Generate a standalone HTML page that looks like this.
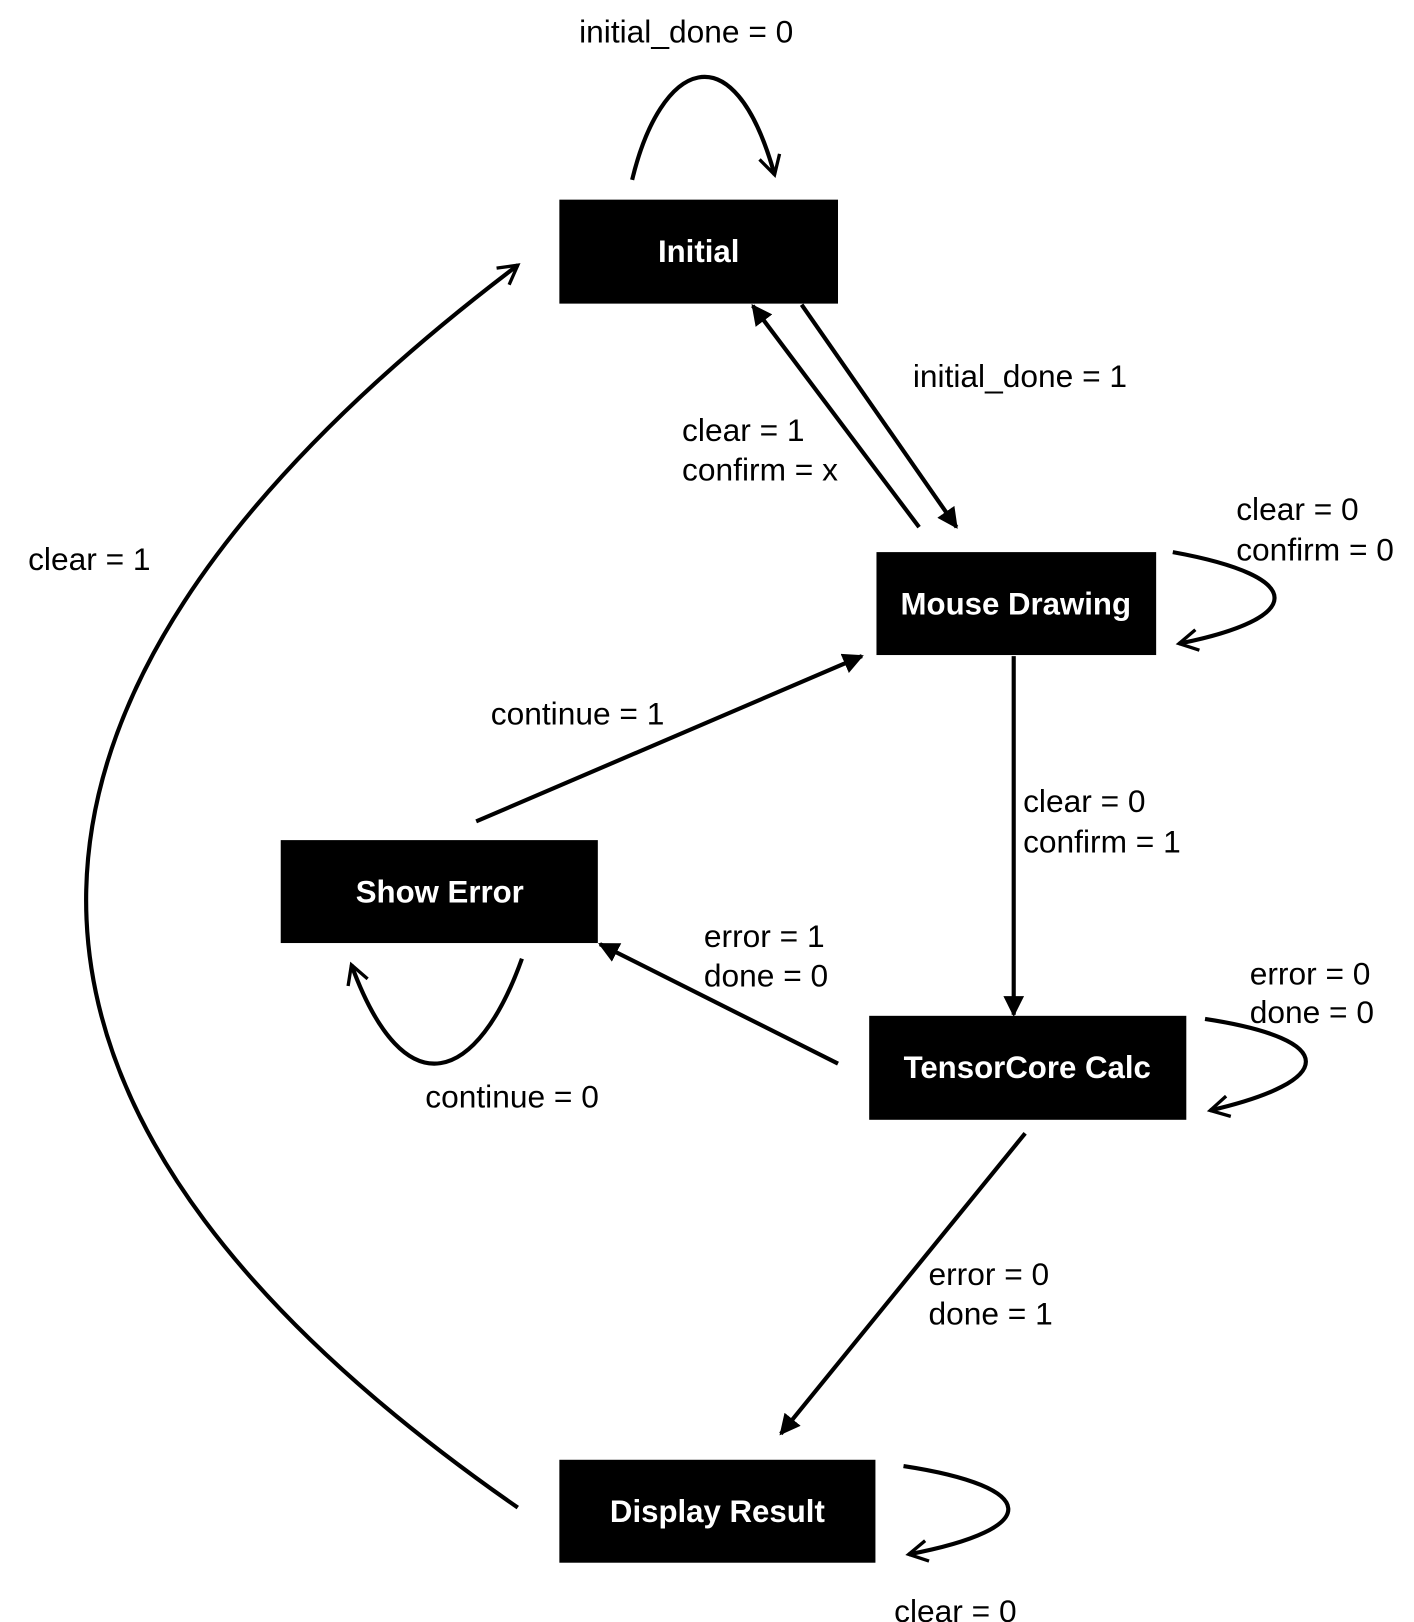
<!DOCTYPE html>
<html><head><meta charset="utf-8"><style>
html,body{margin:0;padding:0;background:#fff;width:1414px;height:1622px;overflow:hidden}
svg{display:block}
text{font-family:"Liberation Sans",Arial,sans-serif}
.l{font-size:30.5px;fill:#000}
.n{font-size:30px;font-weight:bold;fill:#fff;text-anchor:middle}
.e{stroke:#000;stroke-width:4;fill:none}
</style></head><body>
<svg width="1414" height="1622" viewBox="0 0 1360 1560" xmlns="http://www.w3.org/2000/svg">
<defs>
<marker id="f" viewBox="0 0 10 10" refX="9" refY="5" markerWidth="5" markerHeight="5" orient="auto" markerUnits="strokeWidth">
<path d="M0,0 L10,5 L0,10 z" fill="#000"/></marker>
<marker id="o" viewBox="0 0 12 12" refX="10" refY="6" markerWidth="6" markerHeight="6" orient="auto" markerUnits="strokeWidth">
<path d="M1,1 L10,6 L1,11" fill="none" stroke="#000" stroke-width="1.6"/></marker>
</defs>

<rect x="538" y="192" width="268" height="100"/>
<text class="n" x="672" y="252">Initial</text>
<rect x="843" y="531" width="269" height="99"/>
<text class="n" x="977" y="591">Mouse Drawing</text>
<rect x="270" y="808" width="305" height="99"/>
<text class="n" x="423" y="868">Show Error</text>
<rect x="836" y="977" width="305" height="100"/>
<text class="n" x="988" y="1037">TensorCore Calc</text>
<rect x="538" y="1404" width="304" height="99"/>
<text class="n" x="690" y="1464">Display Result</text>

<path class="e" marker-end="url(#o)" d="M608,173 C635,60 705,25 745,168"/>
<line class="e" marker-end="url(#f)" x1="771" y1="293" x2="920" y2="507"/>
<line class="e" marker-end="url(#f)" x1="884" y1="507" x2="724" y2="294"/>
<path class="e" marker-end="url(#o)" d="M1128,531 C1260,555 1255,595 1134,619"/>
<line class="e" marker-end="url(#f)" x1="975" y1="631" x2="975" y2="976"/>
<line class="e" marker-end="url(#f)" x1="806" y1="1023" x2="577" y2="908"/>
<line class="e" marker-end="url(#f)" x1="458" y1="790" x2="829" y2="631"/>
<path class="e" marker-end="url(#o)" d="M502,922 C460,1040 390,1070 338,928"/>
<path class="e" marker-end="url(#o)" d="M1159,980 C1290,1000 1285,1040 1164,1068"/>
<line class="e" marker-end="url(#f)" x1="986" y1="1090" x2="751" y2="1379"/>
<path class="e" marker-end="url(#o)" d="M869,1410 C1000,1430 1005,1470 874,1495"/>
<path class="e" marker-end="url(#o)" d="M498,1450 C-20,1090 -90,700 498,255"/>

<text class="l" x="557" y="41">initial_done = 0</text>
<text class="l" x="878" y="372">initial_done = 1</text>
<text class="l" x="656" y="424">clear = 1</text>
<text class="l" x="656" y="462">confirm = x</text>
<text class="l" x="1189" y="500">clear = 0</text>
<text class="l" x="1189" y="539">confirm = 0</text>
<text class="l" x="27" y="548">clear = 1</text>
<text class="l" x="472" y="697">continue = 1</text>
<text class="l" x="984" y="781">clear = 0</text>
<text class="l" x="984" y="820">confirm = 1</text>
<text class="l" x="677" y="911">error = 1</text>
<text class="l" x="677" y="949">done = 0</text>
<text class="l" x="1202" y="947">error = 0</text>
<text class="l" x="1202" y="984">done = 0</text>
<text class="l" x="409" y="1065">continue = 0</text>
<text class="l" x="893" y="1236">error = 0</text>
<text class="l" x="893" y="1274">done = 1</text>
<text class="l" x="860" y="1560">clear = 0</text>
</svg>
</body></html>
